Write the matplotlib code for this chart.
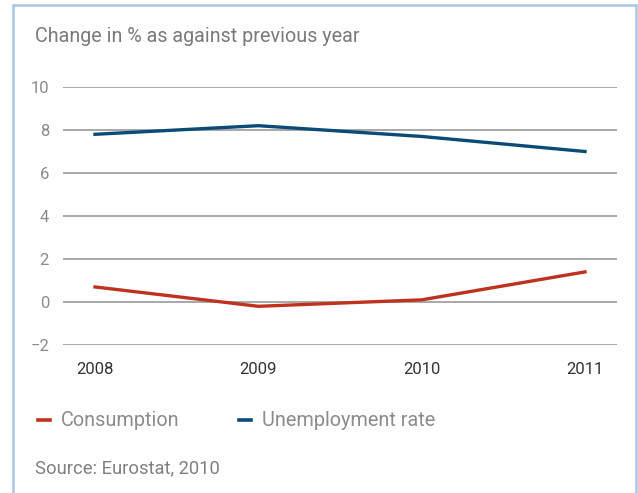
import matplotlib.pyplot as plt
from matplotlib.patches import Rectangle

years = [2008, 2009, 2010, 2011]
consumption = [0.7, -0.2, 0.1, 1.4]
unemployment = [7.8, 8.2, 7.7, 7.0]
y_ticks = [-2, 0, 2, 4, 6, 8, 10]
y_labels = ['\u22122', '0', '2', '4', '6', '8', '10']

red = '#c0321e'
blue = '#0c4a78'
grey_txt = '#8c8c8c'

plt.rcParams['font.family'] = ['Roboto', 'DejaVu Sans']

fig = plt.figure(figsize=(6.38, 4.93), dpi=100)
W, H = 638, 493

# light blue frame round the panel
fig.patches.append(Rectangle((13/W, -0.05), (636-13)/W, 1.05 - 5/H,
                             transform=fig.transFigure, fill=False,
                             edgecolor='#a9c6e4', linewidth=1.8))

ax = fig.add_axes([63/W, 1 - 345/H, (617-63)/W, (345-87)/H])
ax.set_xlim(2008 - 0.196, 2011 + 0.196)
ax.set_ylim(-2, 10)
for v in y_ticks:
	ax.axhline(v, color='#9a9a9a', linewidth=1.2, zorder=1)

ax.plot(years, consumption, color=red, linewidth=2.4, zorder=3, label='Consumption')
ax.plot(years, unemployment, color=blue, linewidth=2.4, zorder=3, label='Unemployment rate')

for s in ax.spines.values():
	s.set_visible(False)
ax.set_yticks(y_ticks)
ax.set_yticklabels(y_labels)
ax.set_xticks(years)
ax.set_xticklabels([str(y) for y in years])
ax.tick_params(axis='y', length=0, pad=10, labelsize=12, labelcolor=grey_txt)
ax.tick_params(axis='x', length=0, pad=12, labelsize=12, labelcolor='#333333')

fig.text(35/W, 1 - 37/H, 'Change in % as against previous year', fontsize=14.2,
         color='#7a7a7a', va='center', ha='left')

leg = fig.legend(loc='center left', bbox_to_anchor=(30/W, 1 - 421/H), ncol=2,
                 frameon=False, prop={'size': 14.3},
                 handlelength=0.6, handletextpad=0.55,
                 columnspacing=3.0, borderaxespad=0)
for t in leg.get_texts():
	t.set_color(grey_txt)
for l in leg.get_lines():
	l.set_linewidth(2.6)

fig.text(35/W, 1 - 468/H, 'Source: Eurostat, 2010', fontsize=13.2, color='#808080',
         va='center', ha='left')

fig.savefig('out.png', dpi=100)
